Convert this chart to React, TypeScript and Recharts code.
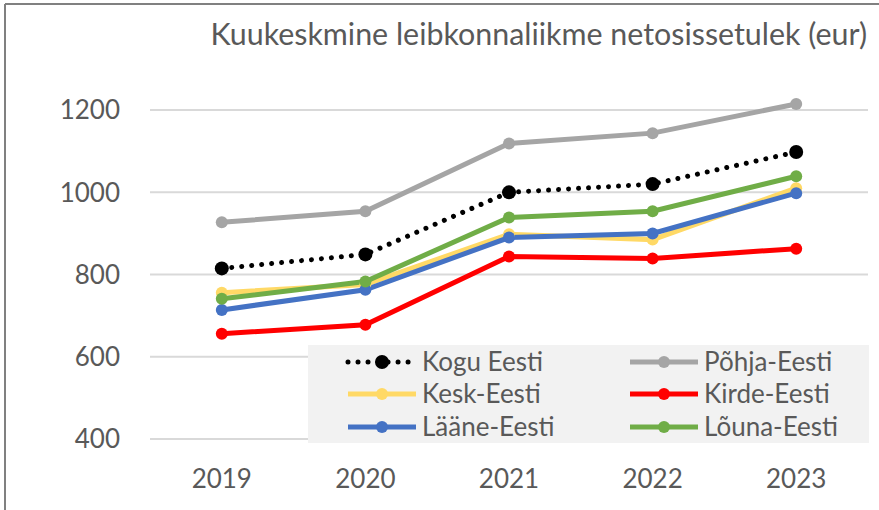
import React from 'react';
import { LineChart, Line, XAxis, YAxis, CartesianGrid, Legend } from 'recharts';

const years = ['2019', '2020', '2021', '2022', '2023'];
const koguEesti = [815, 849, 1000, 1020, 1098];
const pohjaEesti = [927, 954, 1119, 1144, 1215];
const keskEesti = [756, 776, 898, 885, 1010];
const kirdeEesti = [656, 678, 844, 839, 863];
const laaneEesti = [714, 763, 890, 900, 998];
const lounaEesti = [741, 783, 939, 954, 1039];
const yTicks = [400, 600, 800, 1000, 1200];
const titleText = 'Kuukeskmine leibkonnaliikme netosissetulek (eur)';

const FONT = 'Lato, "Open Sans", sans-serif';
const TEXT = '#595959';

const series = [
  { key: 'kogu', name: 'Kogu Eesti', color: '#000000', values: koguEesti, dotted: true },
  { key: 'pohja', name: 'Põhja-Eesti', color: '#a5a5a5', values: pohjaEesti, dotted: false },
  { key: 'kesk', name: 'Kesk-Eesti', color: '#ffd966', values: keskEesti, dotted: false },
  { key: 'kirde', name: 'Kirde-Eesti', color: '#ff0000', values: kirdeEesti, dotted: false },
  { key: 'laane', name: 'Lääne-Eesti', color: '#4472c4', values: laaneEesti, dotted: false },
  { key: 'louna', name: 'Lõuna-Eesti', color: '#70ad47', values: lounaEesti, dotted: false },
];

const data = years.map((y, i) => {
  const row: any = { year: y };
  series.forEach((s) => (row[s.key] = s.values[i]));
  return row;
});

const LegendBox = () => {
  const w = 561;
  const h = 98;
  const colX = [40, 322];
  const rowY = [17, 49, 82];
  return (
    <svg width={w} height={h} style={{ display: 'block' }}>
      <rect x={0} y={0} width={w} height={h} fill="#f2f2f2" />
      {series.map((s, i) => {
        const cx = colX[i % 2];
        const cy = rowY[Math.floor(i / 2)];
        return (
          <g key={s.key}>
            <line
              x1={cx}
              x2={cx + 68}
              y1={cy}
              y2={cy}
              stroke={s.color}
              strokeWidth={5}
              strokeLinecap={s.dotted ? 'round' : 'butt'}
              strokeDasharray={s.dotted ? '0.01 10' : undefined}
            />
            <circle cx={cx + 34} cy={cy} r={s.dotted ? 7 : 6} fill={s.color} />
            <text
              x={cx + 74}
              y={cy}
              dy="0.36em"
              fontFamily={FONT}
              fontSize={26}
              fill={TEXT}
            >
              {s.name}
            </text>
          </g>
        );
      })}
    </svg>
  );
};

export default function App() {
  return (
    <div style={{ position: 'absolute', left: 0, top: 0, width: 879, height: 510, background: '#fff' }}>
      <LineChart width={879} height={510} data={data} margin={{ top: 69, right: 11, bottom: 0, left: 0 }}>
        <CartesianGrid vertical={false} horizontalValues={yTicks} stroke="#d9d9d9" strokeWidth={2} />
        <XAxis
          dataKey="year"
          scale="band"
          height={71}
          axisLine={false}
          tickLine={false}
          tickSize={0}
          tickMargin={31}
          tick={{ fill: TEXT, fontSize: 26, fontFamily: FONT }}
        />
        <YAxis
          width={150}
          domain={[400, 1300]}
          ticks={yTicks}
          axisLine={false}
          tickLine={false}
          tickSize={0}
          tickMargin={30}
          tick={{ fill: TEXT, fontSize: 26, fontFamily: FONT }}
        />
        <Legend
          layout="horizontal"
          verticalAlign="middle"
          align="center"
          wrapperStyle={{ left: 308, top: 345, width: 561, height: 98 }}
          content={() => <LegendBox />}
        />
        {series.map((s) => (
          <Line
            key={s.key}
            dataKey={s.key}
            name={s.name}
            stroke={s.color}
            strokeWidth={5}
            strokeLinecap={s.dotted ? 'round' : 'butt'}
            strokeDasharray={s.dotted ? '0.01 10' : undefined}
            dot={{ r: s.dotted ? 7 : 6, fill: s.color, stroke: 'none', strokeDasharray: '' }}
            activeDot={false}
            isAnimationActive={false}
          />
        ))}
      </LineChart>
      <svg
        width={879}
        height={510}
        style={{ position: 'absolute', left: 0, top: 0, pointerEvents: 'none' }}
      >
        <line x1={5} y1={4} x2={879} y2={4} stroke="#808080" strokeWidth={2} />
        <line x1={5} y1={4} x2={5} y2={510} stroke="#808080" strokeWidth={2} />
        <text x={867} y={45} textAnchor="end" fontFamily={FONT} fontSize={30.4} fill={TEXT}>
          {titleText}
        </text>
      </svg>
    </div>
  );
}
